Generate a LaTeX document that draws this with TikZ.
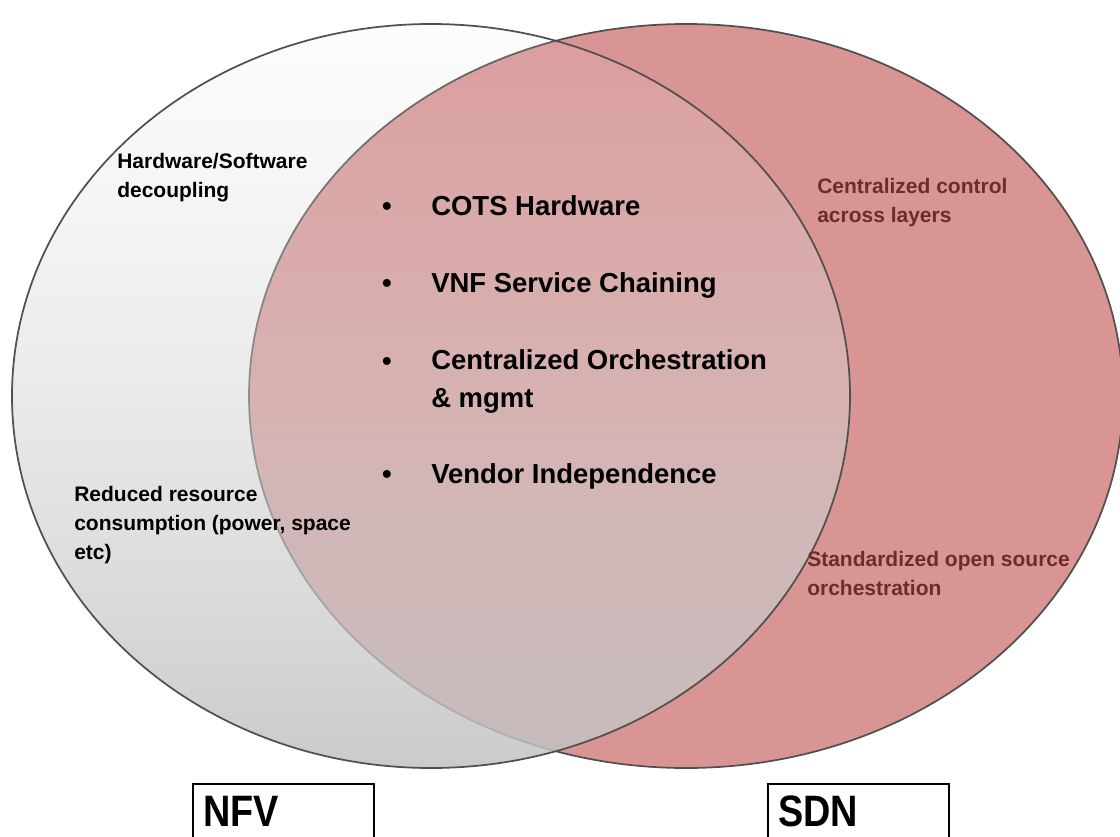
\documentclass[tikz,border=0pt]{standalone}
\usepackage{fontspec}
\setmainfont{Liberation Sans}
\newfontfamily\boxfont[FakeStretch=0.86]{Liberation Sans}
\usetikzlibrary{fadings}
\definecolor{sdnred}{RGB}{217,149,148}
\definecolor{sdntext}{RGB}{112,42,42}
\definecolor{vennline}{RGB}{80,80,80}
\definecolor{nfvtop}{RGB}{228,228,228}
\definecolor{nfvbottom}{RGB}{194,194,194}
\tikzfading[name=nfvfade, top color=transparent!90, bottom color=transparent!14]

\begin{document}
\begin{tikzpicture}[x=0.75pt, y=-0.75pt,
    venn/.style={draw=vennline, line width=1.3pt},
    bigitem/.style={font=\fontsize{20.6}{28.5}\selectfont\bfseries, inner sep=0pt, align=left},
    note/.style={font=\fontsize{15.75}{21.5}\selectfont\bfseries, inner sep=0pt, align=left},
    setbox/.style={draw, line width=1.5pt, inner xsep=7.5pt, inner ysep=0pt, text width=120.75pt,
        align=left, text height=31.5pt, text depth=30pt, font=\boxfont\fontsize{33}{33}\selectfont\bfseries}]
    \useasboundingbox (0,0) rectangle (1120,836);
    \fill[white] (0,0) rectangle (1120,836);

    \coordinate (nfv) at (431,396);
    \coordinate (sdn) at (686,396);
    \fill[sdnred] (sdn) ellipse [x radius=437, y radius=372];
    \draw[venn] (sdn) ellipse [x radius=437, y radius=372];
    \shade[top color=nfvtop, bottom color=nfvbottom, path fading=nfvfade] (nfv) ellipse [x radius=419, y radius=372];
    \draw[venn] (nfv) ellipse [x radius=419, y radius=372];

    \node[note, anchor=base west] (decouple) at (117,197) {Hardware/Software\\decoupling};
    \node[note, anchor=base west] (resource) at (74,559) {Reduced resource\\consumption (power, space\\etc)};
    \node[note, anchor=base west, text=sdntext] (control) at (817,222) {Centralized control\\across layers};
    \node[note, anchor=base west, text=sdntext] (opensrc) at (807,595) {Standardized open source\\orchestration};

    \node[bigitem, anchor=base] (cotsdot) at (387,215) {\textbullet};
    \node[bigitem, anchor=base west] (cots) at (431,215) {COTS Hardware};
    \node[bigitem, anchor=base] (vnfdot) at (387,292) {\textbullet};
    \node[bigitem, anchor=base west] (vnf) at (431,292) {VNF Service Chaining};
    \node[bigitem, anchor=base] (orchdot) at (387,370) {\textbullet};
    \node[bigitem, anchor=base west] (orch) at (431,407) {Centralized Orchestration\\\& mgmt};
    \node[bigitem, anchor=base] (vendordot) at (387,483) {\textbullet};
    \node[bigitem, anchor=base west] (vendor) at (431,483) {Vendor Independence};

    \node[setbox, anchor=north west] (nfvbox) at (192,783) {NFV};
    \node[setbox, anchor=north west] (sdnbox) at (767,783) {SDN};
\end{tikzpicture}
\end{document}
